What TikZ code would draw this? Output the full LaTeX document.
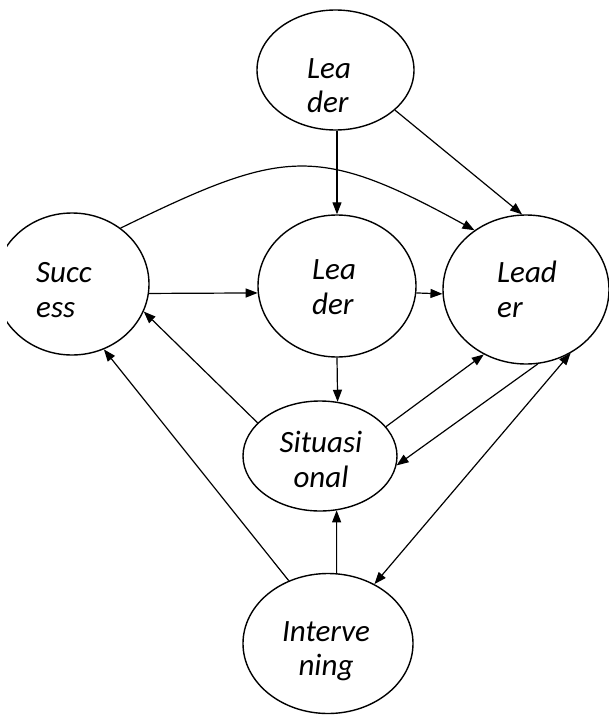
\documentclass[tikz,border=0pt]{standalone}
\usepackage{fontspec}
\setmainfont{Carlito}
\usetikzlibrary{shapes.geometric,arrows.meta}
\tikzset{
  ell/.style={draw, ellipse, inner sep=0pt, line width=1.4pt},
  arr/.style={line width=1.2pt, -{Triangle[length=12pt,width=9pt]}},
  arrboth/.style={line width=1.2pt, {Triangle[length=12pt,width=9pt]}-{Triangle[length=12pt,width=9pt]}},
  lbl/.style={inner sep=0pt, font=\itshape\fontsize{31}{36}\selectfont},
}
\begin{document}
\begin{tikzpicture}[x=1pt,y=-1pt]
\useasboundingbox (0,0) rectangle (609,715);
\clip (7,0) rectangle (609,715);
% ellipses
\node[ell, minimum width=157pt, minimum height=120pt] (top) at (335.5,70) {};
\node[ell, minimum width=154pt, minimum height=142pt] (succ) at (72,284) {};
\node[ell, minimum width=158pt, minimum height=142pt] (mid) at (337,286) {};
\node[ell, minimum width=166pt, minimum height=149pt] (right) at (526,289.5) {};
\node[ell, minimum width=154pt, minimum height=110pt] (sit) at (320,456) {};
\node[ell, minimum width=170pt, minimum height=140pt] (int) at (328,643.5) {};
% labels
\node[lbl, anchor=base west] (t1a) at (307,78) {Lea};
\node[lbl, anchor=base west] (t1b) at (307,112) {der};
\node[lbl, anchor=base west] (t2a) at (36,282) {Succ};
\node[lbl, anchor=base west] (t2b) at (36,317) {ess};
\node[lbl, anchor=base west] (t3a) at (312,279) {Lea};
\node[lbl, anchor=base west] (t3b) at (312,314) {der};
\node[lbl, anchor=base west] (t4a) at (497,282) {Lead};
\node[lbl, anchor=base west] (t4b) at (497,317) {er};
\node[lbl, anchor=base] (t5a) at (321,452) {Situasi};
\node[lbl, anchor=base] (t5b) at (321,487) {onal};
\node[lbl, anchor=base] (t6a) at (326,641) {Interve};
\node[lbl, anchor=base] (t6b) at (326,675) {ning};
% connectors
\draw[arr] (mid.north |- top.south) -- (mid.north);
\draw[arr] (top.-34.5) -- (right.93.8);
\draw[arr] (succ.49) .. controls (283,149) and (316,143) .. (right.131);
\draw[arr] (succ.-7.5) -- (mid.185.8);
\draw[arr] (mid.-5.8) -- (right.183.1);
\draw[arr] (mid.south) -- (sit.72.4);
\draw[arr] (sit.152.4) -- (succ.-21.5);
\draw[arr] (int.122.2) -- (succ.-64.5);
\draw[arr] (int.83.5) -- (sit.-73.4);
\draw[arr] (sit.24.8) -- (right.237.9);
\draw[arr] (right.-81.7) -- (sit.-7.4);
\draw[arrboth] (right.-55.1) -- (int.52.6);
\end{tikzpicture}
\end{document}
